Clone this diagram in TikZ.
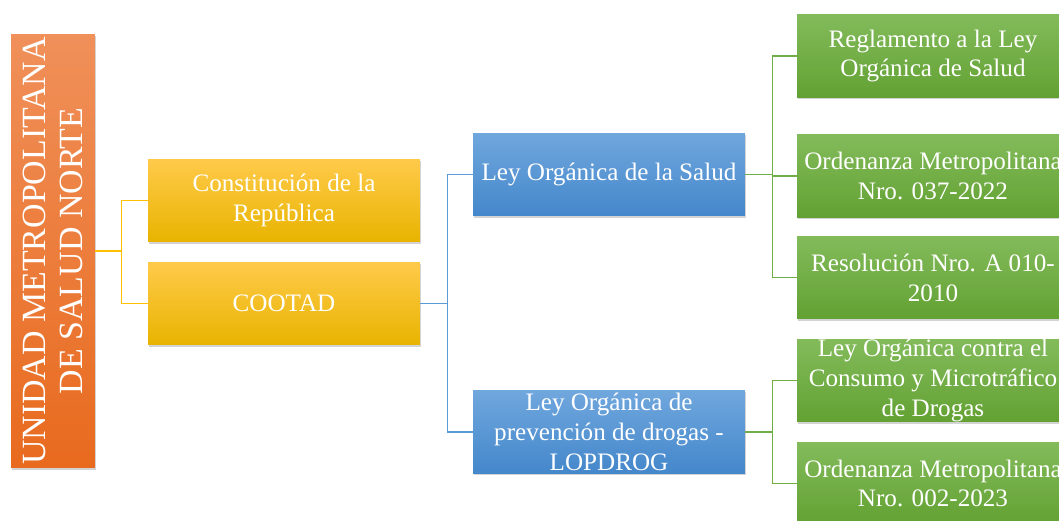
\documentclass[tikz,border=0pt]{standalone}
\usepackage{fontspec}
\setmainfont{Liberation Serif}
\usetikzlibrary{shadows}
\definecolor{orgtop}{HTML}{F0905A}
\definecolor{orgbot}{HTML}{E86A1E}
\definecolor{ylwtop}{HTML}{FFCA4A}
\definecolor{ylwmid}{HTML}{FFC000}
\definecolor{ylwbot}{HTML}{E8B400}
\definecolor{ylwline}{HTML}{FFC000}
\definecolor{blutop}{HTML}{70A7DD}
\definecolor{blubot}{HTML}{4487CB}
\definecolor{bluline}{HTML}{5B9BD5}
\definecolor{grntop}{HTML}{83BB5B}
\definecolor{grnbot}{HTML}{62A132}
\definecolor{grnline}{HTML}{70AD47}
\begin{document}
\begin{tikzpicture}
        [x=0.02cm,y=-0.02cm,
         every node/.style={inner sep=0pt, text=white, align=center, font=\fontsize{14.3}{17}\selectfont},
         box/.style={minimum width=5.44cm, minimum height=1.66cm, drop shadow={shadow xshift=0.8pt, shadow yshift=-1pt, opacity=0.35}},
         ylw/.style={box, top color=ylwtop, middle color=ylwmid, bottom color=ylwbot},
         blu/.style={box, top color=blutop, bottom color=blubot},
         grn/.style={box, top color=grntop, bottom color=grnbot},
         link/.style={line width=0.8pt}]
      \useasboundingbox (0,0) rectangle (1059,521);
      \node[rotate=90, minimum width=8.68cm, minimum height=1.68cm, top color=orgtop, bottom color=orgbot,
            font=\fontsize{19.3}{21}\selectfont, drop shadow={shadow xshift=0.8pt, shadow yshift=-1pt, opacity=0.35}]
            (unidad) at (53,251) {UNIDAD METROPOLITANA\\DE SALUD NORTE};
      \node[ylw] (const) at (284,200.5) {Constitución de la\\República};
      \node[ylw] (cootad) at (284,303.5) {COOTAD};
      \node[blu] (los) at (609,174.5) {Ley Orgánica de la Salud};
      \node[blu] (lopdrog) at (609,432) {Ley Orgánica de\\prevención de drogas -\\LOPDROG};
      \node[grn] (reg) at (933,56) {Reglamento a la Ley\\Orgánica de Salud};
      \node[grn] (ord37) at (933,176) {Ordenanza Metropolitana\\Nro. 037-2022};
      \node[grn] (res) at (933,277.5) {Resolución Nro. A 010-\\2010};
      \node[grn] (locm) at (933,380.5) {Ley Orgánica contra el\\Consumo y Microtráfico\\de Drogas};
      \node[grn] (ord02) at (933,483.5) {Ordenanza Metropolitana\\Nro. 002-2023};

      \foreach \from/\to in {unidad/const, unidad/cootad}
        \draw[link, ylwline] (\from.south) -- ++(26,0) |- (\to.west);
      \foreach \from/\to in {cootad/los, cootad/lopdrog}
        \draw[link, bluline] (\from.east) -- ++(27,0) |- (\to.west);
      \foreach \from/\to in {los/reg, los/ord37, los/res, lopdrog/locm, lopdrog/ord02}
        \draw[link, grnline] (\from.east) -- ++(27,0) |- (\to.west);
    \end{tikzpicture}
\end{document}
